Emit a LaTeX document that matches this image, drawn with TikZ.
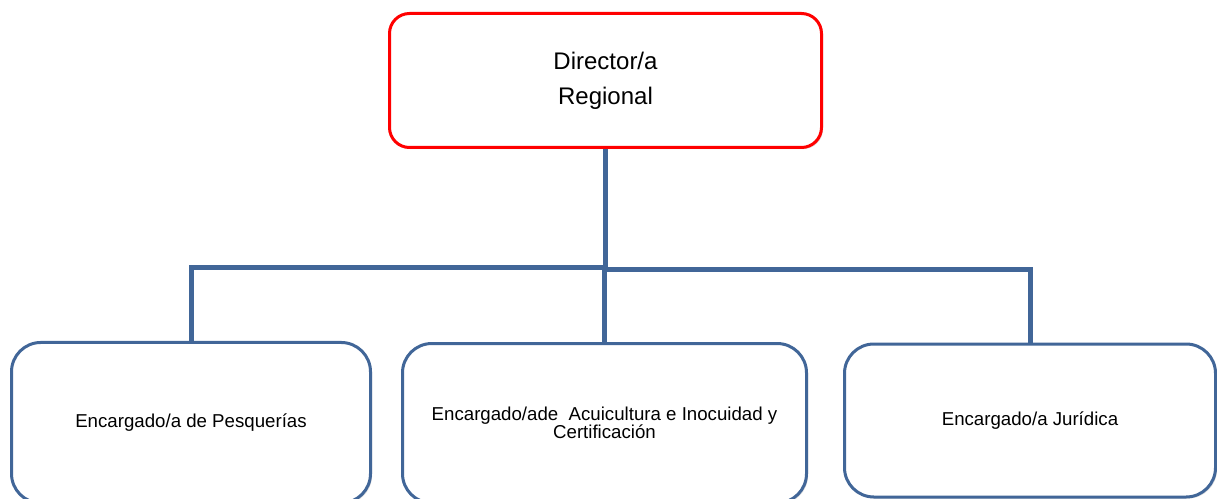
\documentclass[tikz,border=0pt]{standalone}
\usepackage{fontspec}
\setmainfont{Liberation Sans}
\usetikzlibrary{positioning,shadows}

\definecolor{orgblue}{RGB}{65,102,152}

\begin{document}
\begin{tikzpicture}[
        x=0.75pt, y=-0.75pt,
        box/.style={draw, line width=2.25pt, fill=white, align=center, inner sep=0pt,
                    drop shadow={shadow xshift=1.2pt, shadow yshift=-1.2pt, opacity=0.25}},
        headbox/.style={box, draw=red, rounded corners=15pt, minimum width=324pt, minimum height=100.5pt,
                        font=\fontsize{18}{26}\selectfont},
        unitbox/.style={box, draw=orgblue, rounded corners=22pt,
                        font=\fontsize{14}{13.5}\selectfont},
        link/.style={draw=orgblue, line width=3.75pt}
    ]
        \useasboundingbox (0,0) rectangle (1217,499);

% --- Director (top) ---
        \node[headbox] (director) at (605.5,80.5) {Director/a\\Regional};

% --- Units (bottom row) ---
        \node[unitbox, minimum width=269.25pt, minimum height=120.4pt] (pesquerias) at (191,422.75) {Encargado/a de Pesquerías};
        \node[unitbox, minimum width=303pt, minimum height=119.6pt] (acuicultura) at (604.5,423.25) {Encargado/ade\ \ Acuicultura e Inocuidad y\\Certificación};
        \node[unitbox, minimum width=278.25pt, minimum height=114.75pt] (juridica) at (1030,420.5) {Encargado/a Jurídica};

% --- Connectors ---
        \draw[link] (director.south) -- ++(0,118) coordinate (hub);
        \draw[link] (hub) -| (pesquerias.north);
        \draw[link] ([yshift=-1.5pt]hub) -| (juridica.north);
        \draw[link] (acuicultura.north |- hub) -- (acuicultura.north);

    \end{tikzpicture}
\end{document}
